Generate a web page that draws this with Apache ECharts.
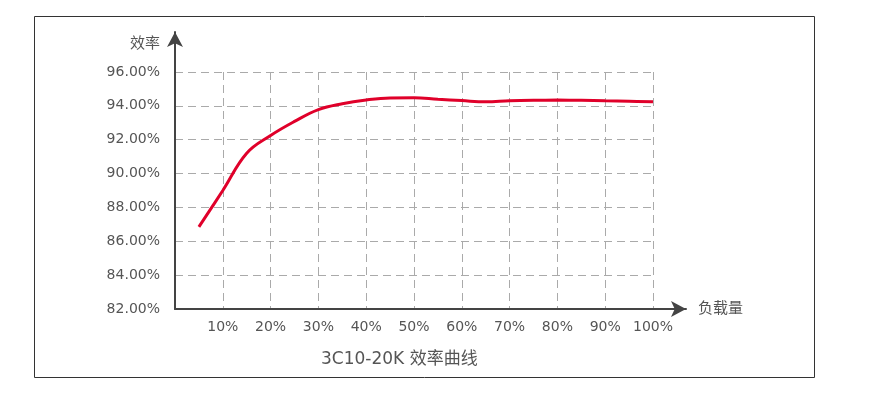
<!DOCTYPE html>
<html>
<head>
<meta charset="utf-8">
<script src="https://cdn.jsdelivr.net/npm/echarts@6/dist/echarts.min.js"></script>
<style>
html,body{margin:0;padding:0;background:#fff;}
#c{width:892px;height:394px;}
</style>
</head>
<body>
<div id="c"></div>
<script>
const loadPct = [5, 10, 15, 20, 25, 30, 35, 40, 45, 50, 55, 60, 65, 70, 75, 80, 85, 90, 95, 100];
const efficiency = [86.85, 89.0, 91.2, 92.25, 93.08, 93.78, 94.13, 94.35, 94.47, 94.48, 94.39, 94.31, 94.24, 94.3, 94.33, 94.34, 94.33, 94.3, 94.27, 94.24];
const xTicks = [10, 20, 30, 40, 50, 60, 70, 80, 90, 100];
const titleText = '3C10-20K 效率曲线';
const yName = '效率';
const xName = '负载量';

const FONT = '"DejaVu Sans", "Noto Sans CJK SC", sans-serif';
const TXT = '#555';
const chart = echarts.init(document.getElementById('c'), null, {renderer: 'canvas'});
chart.setOption({
  animation: false,
  backgroundColor: '#fff',
  title: {
    text: titleText, left: 316, top: 346,
    textStyle: {fontFamily: FONT, fontSize: 17, fontWeight: 'normal', color: TXT}
  },
  graphic: [{
    type: 'rect', shape: {x: 34.5, y: 16.5, width: 780, height: 361},
    style: {fill: 'none', stroke: '#333', lineWidth: 1}, silent: true
  }],
  grid: [
    {left: 175, top: 72, width: 478, height: 237, containLabel: false},
    {left: 175, top: 32, right: 892 - 686, bottom: 394 - 309, containLabel: false}
  ],
  xAxis: [{
    type: 'value', gridIndex: 0, min: 0, max: 100, interval: 10,
    axisLine: {show: false}, axisTick: {show: false},
    axisLabel: {
      margin: 11, fontFamily: FONT, fontSize: 14, color: TXT,
      formatter: v => xTicks.indexOf(v) >= 0 ? v + '%' : ''
    },
    splitLine: {show: true, lineStyle: {color: '#aaa', type: [8, 5], width: 1}}
  }, {
    type: 'value', gridIndex: 1, min: 0, max: 1,
    axisLine: {show: true, symbol: ['none', 'arrow'], symbolSize: [12, 15],
      lineStyle: {color: '#444', width: 2}},
    axisTick: {show: false}, axisLabel: {show: false}, splitLine: {show: false},
    name: xName, nameLocation: 'end', nameGap: 12,
    nameTextStyle: {fontFamily: FONT, fontSize: 15, color: TXT}
  }],
  yAxis: [{
    type: 'value', gridIndex: 0, min: 82, max: 96, interval: 2,
    axisLine: {show: false}, axisTick: {show: false},
    axisLabel: {
      margin: 15, fontFamily: FONT, fontSize: 14, color: TXT,
      formatter: v => v.toFixed(2) + '%'
    },
    splitLine: {show: true, lineStyle: {color: '#aaa', type: [8, 5], width: 1}}
  }, {
    type: 'value', gridIndex: 1, min: 0, max: 1,
    axisLine: {show: true, symbol: ['none', 'arrow'], symbolSize: [12, 15],
      lineStyle: {color: '#444', width: 2}},
    axisTick: {show: false}, axisLabel: {show: false}, splitLine: {show: false},
    name: yName, nameLocation: 'end', nameGap: -12,
    nameTextStyle: {fontFamily: FONT, fontSize: 15, color: TXT, align: 'right', verticalAlign: 'middle', padding: [0, 15, 0, 0]}
  }],
  series: [{
    type: 'line', xAxisIndex: 0, yAxisIndex: 0,
    data: loadPct.map((x, i) => [x, efficiency[i]]),
    smooth: 0.4, showSymbol: false,
    lineStyle: {color: '#e0002a', width: 3}
  }]
});
</script>
</body>
</html>
